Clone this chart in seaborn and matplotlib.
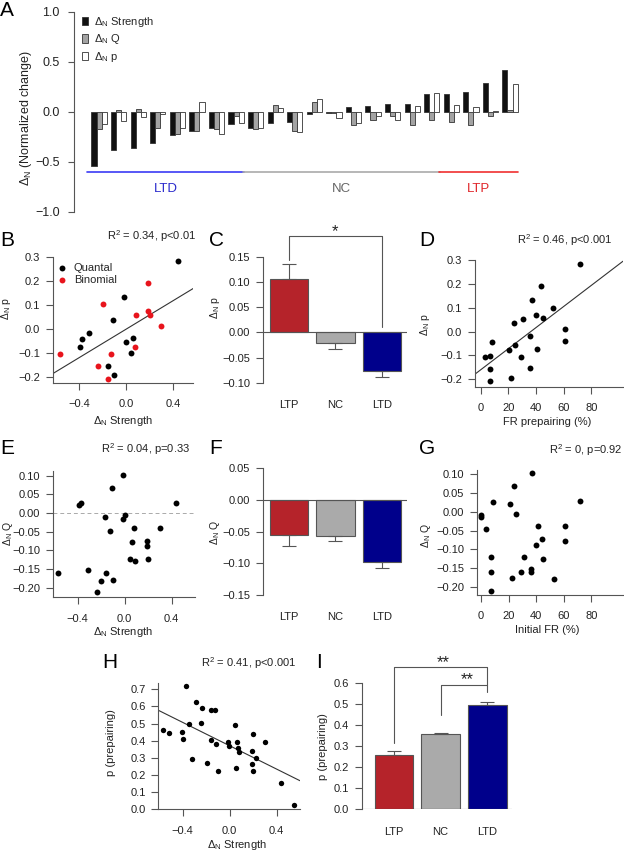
import numpy as np
import pandas as pd
import matplotlib
matplotlib.use('Agg')
import matplotlib.pyplot as plt
from matplotlib.patches import Patch
import seaborn as sns

sns.set_style('ticks')
plt.rcParams['font.family'] = ['Liberation Sans', 'DejaVu Sans']
plt.rcParams['mathtext.fontset'] = 'custom'
plt.rcParams['mathtext.rm'] = 'Liberation Sans'
plt.rcParams['mathtext.it'] = 'Liberation Sans:italic'
plt.rcParams['mathtext.bf'] = 'Liberation Sans:bold'

# ---- data ----
# A: normalized change per cell (sorted by strength change)
cell_class = ['LTD'] * 8 + ['NC'] * 10 + ['LTP'] * 4
d_strength = [-0.54, -0.38, -0.36, -0.31, -0.23, -0.19, -0.16, -0.12, -0.16, -0.11, -0.10,
              -0.015, -0.005, 0.05, 0.063, 0.08, 0.08, 0.18, 0.18, 0.197, 0.29, 0.42]
d_q = [-0.167, 0.023, 0.027, -0.157, -0.223, -0.193, -0.17, -0.043, -0.17, 0.067, -0.187,
       0.097, -0.01, -0.133, -0.083, -0.043, -0.133, -0.083, -0.10, -0.127, -0.043, 0.023]
d_p = [-0.117, -0.09, -0.05, -0.023, -0.157, 0.103, -0.217, -0.113, -0.16, 0.037, -0.20,
       0.13, -0.06, -0.11, -0.043, -0.08, 0.057, 0.19, 0.07, 0.05, 0.01, 0.28]

# B: delta p vs delta strength
quantal_strength = [0.44, -0.014, -0.111, -0.316, -0.375, -0.395, 0.0, 0.062, 0.045, -0.156, -0.10]
quantal_dp = [0.282, 0.131, 0.036, -0.017, -0.042, -0.078, -0.057, -0.04, -0.10, -0.154, -0.193]
binomial_strength = [0.185, -0.196, 0.085, 0.185, 0.205, 0.299, 0.079, -0.125, -0.563, -0.236, -0.156]
binomial_dp = [0.192, 0.102, 0.058, 0.072, 0.056, 0.012, -0.075, -0.104, -0.107, -0.155, -0.208]

# C, F, I: group means +- sem
groups = ['LTP', 'NC', 'LTD']
dp_mean = [0.105, -0.021, -0.077]
dp_sem = [0.030, 0.012, 0.011]
dq_mean = [-0.055, -0.057, -0.098]
dq_sem = [0.017, 0.008, 0.010]
ppre_mean = [0.256, 0.355, 0.496]
ppre_sem = [0.022, 0.008, 0.011]

# D: delta p vs FR prepairing
d_fr = [71.6, 43.8, 37.0, 52.7, 39.9, 45.0, 30.9, 23.9, 60.7, 35.8, 60.7, 8.0, 25.1, 20.8,
        40.6, 3.1, 6.8, 29.0, 6.8, 35.8, 21.8, 6.8]
d_dp = [0.282, 0.191, 0.132, 0.100, 0.071, 0.058, 0.054, 0.036, 0.012, -0.017, -0.039, -0.042,
        -0.056, -0.079, -0.075, -0.105, -0.102, -0.108, -0.157, -0.154, -0.195, -0.209]

# E: delta Q vs delta strength
e_strength = [-0.014, -0.11, -0.391, -0.374, 0.44, -0.167, 0.0, -0.014, -0.125, 0.082, 0.298,
              0.062, 0.187, 0.187, 0.048, 0.085, 0.201, -0.564, -0.315, -0.159, -0.198, -0.102, -0.238]
e_dq = [0.102, 0.068, 0.021, 0.026, 0.028, -0.01, -0.005, -0.017, -0.047, -0.039, -0.04,
        -0.078, -0.074, -0.088, -0.122, -0.128, -0.122, -0.161, -0.154, -0.162, -0.182, -0.179, -0.212]

# G: delta Q vs initial FR
g_fr = [37.3, 24.2, 8.5, 21.3, 72.1, 0.2, 0.2, 25.4, 3.6, 41.4, 61.0, 44.3, 61.0, 40.2, 7.3,
        31.2, 45.2, 7.3, 29.3, 36.3, 36.3, 22.3, 53.2, 7.3]
g_dq = [0.103, 0.068, 0.027, 0.021, 0.028, -0.009, -0.015, -0.005, -0.046, -0.038, -0.039,
        -0.073, -0.077, -0.088, -0.121, -0.121, -0.126, -0.161, -0.16, -0.153, -0.161, -0.177, -0.18, -0.21]

# H: p (prepairing) vs delta strength
h_strength = [-0.373, -0.288, -0.237, -0.157, -0.121, -0.563, -0.517, -0.345, -0.245, -0.402,
              -0.393, 0.049, -0.16, -0.112, -0.016, -0.004, 0.064, 0.075, 0.083, 0.203, 0.302,
              0.189, 0.226, -0.317, -0.194, 0.191, 0.055, -0.10, 0.203, 0.438, 0.549]
h_p = [0.717, 0.625, 0.590, 0.581, 0.581, 0.463, 0.447, 0.500, 0.506, 0.452, 0.410, 0.490,
       0.402, 0.381, 0.393, 0.371, 0.391, 0.360, 0.332, 0.440, 0.391, 0.342, 0.301, 0.291,
       0.272, 0.262, 0.242, 0.225, 0.221, 0.154, 0.027]

# ---- figure ----
W, H = 624, 852
fig = plt.figure(figsize=(W / 100, H / 100), dpi=100)
AX = '#555555'
TXT = '#222222'
grp_colors = ['#b5232a', '#aaaaaa', '#00008b']


def box(l, r, t, b):
    return fig.add_axes([l / W, 1 - b / H, (r - l) / W, (b - t) / H])


def fmt(v, nd):
    return f'{v:.{nd}f}'.replace('-', '\u2212')


def style(ax, fs=8):
    for s in ['top', 'right']:
        ax.spines[s].set_visible(False)
    for s in ['left', 'bottom']:
        ax.spines[s].set_color(AX)
        ax.spines[s].set_linewidth(0.8)
    ax.tick_params(direction='out', length=4.7, width=0.8, color=AX, labelsize=fs,
                   labelcolor=TXT)
    ax.tick_params(axis='y', pad=4.5)
    ax.tick_params(axis='x', pad=7)


def ylab(ax, text, x, y, fs=7.5):
    ax.set_ylabel(text, fontsize=fs, color=TXT)
    ax.yaxis.set_label_coords(x / W, 1 - y / H, transform=fig.transFigure)


def xlab(ax, text, x, y, fs=8):
    ax.set_xlabel(text, fontsize=fs, color=TXT)
    ax.xaxis.set_label_coords(x / W, 1 - y / H, transform=fig.transFigure)


def ticks(ax, xt, yt, xnd, ynd):
    if xt is not None:
        ax.set_xticks(xt)
        ax.set_xticklabels([fmt(v, xnd) for v in xt])
    ax.set_yticks(yt)
    ax.set_yticklabels([fmt(v, ynd) for v in yt])


def panel_letter(s, x, y):
    fig.text(x / W, 1 - y / H, s, fontsize=15, va='center', ha='left', color='black')


def stat_text(s, x, y):
    fig.text(x / W, 1 - y / H, s, fontsize=8, ha='center', va='center', color=TXT)


def bar_panel(ax, means, sems, ylim, yt):
    sns.barplot(x=groups, y=means, hue=groups, palette=grp_colors, saturation=1, width=0.83,
                edgecolor=AX, linewidth=0.8, errorbar=None, legend=False, ax=ax)
    for i, (m, e) in enumerate(zip(means, sems)):
        err = [[0], [e]] if m > 0 else [[e], [0]]
        ax.errorbar(i, m, yerr=err, fmt='none', ecolor=AX, elinewidth=0.8, capsize=5,
                    capthick=0.8, zorder=3)
    ax.axhline(0, color=AX, lw=0.8, zorder=3)
    style(ax)
    ax.set_xlim(-0.56, 2.54)
    ax.set_ylim(*ylim)
    ticks(ax, None, yt, 0, 2 if yt[1] - yt[0] < 0.1 else 1)
    ax.spines['bottom'].set_visible(False)
    ax.spines['left'].set_bounds(min(yt), max(yt))
    ax.tick_params(axis='x', length=0, labelsize=8, pad=12.5)
    ax.set_xlabel('')


def bracket(ax, x0, x1, y0, ytop, y1):
    ax.plot([x0, x0, x1, x1], [y0, ytop, ytop, y1], color=AX, lw=0.8, clip_on=False)


dN = 'Δ$_\\mathregular{N}$'

# ---------- A ----------
axA = box(74, 530, 12, 212)
labels = [dN + ' Strength', dN + ' Q', dN + ' p']
n = len(d_strength)
dfA = pd.DataFrame({'cell': np.tile(np.arange(n), 3),
                    'measure': np.repeat(labels, n),
                    'value': np.concatenate([d_strength, d_q, d_p])})
a_cols = ['#111111', '#a3a3a3', '#ffffff']
sns.barplot(data=dfA, x='cell', y='value', hue='measure', palette=a_cols, saturation=1,
            width=0.78, edgecolor='#333333', linewidth=0.6, errorbar=None, legend=False, ax=axA)
style(axA, fs=9)
axA.tick_params(axis='y', length=4.3, pad=6)
axA.spines['bottom'].set_visible(False)
axA.set_xticks([])
axA.set_xlim(-1.28, 22.02)
axA.set_ylim(-1.0, 1.0)
ticks(axA, None, [-1.0, -0.5, 0.0, 0.5, 1.0], 0, 1)
ylab(axA, dN + ' (Normalized change)', 34, 118, fs=9)
axA.set_xlabel('')
handles = [Patch(facecolor=c, edgecolor='#333333', linewidth=0.6) for c in a_cols]
axA.legend(handles, labels, loc='upper left', bbox_to_anchor=(0.018, 0.985), frameon=False,
           fontsize=8, handlelength=0.55, handleheight=0.8, handletextpad=0.5,
           labelspacing=0.3, borderaxespad=0, borderpad=0)
cls_style = {'LTD': ('#3b3bf5', '#2a2acc'), 'NC': ('#aaaaaa', '#666666'), 'LTP': ('#f03030', '#e0262a')}
for c in ['LTD', 'NC', 'LTP']:
    idx = [i for i, k in enumerate(cell_class) if k == c]
    axA.plot([idx[0] - 0.62, idx[-1] + 0.42], [-0.6, -0.6], color=cls_style[c][0], lw=1.2,
             clip_on=False)
    axA.text((idx[0] + idx[-1]) / 2 - 0.1, -0.765, c, color=cls_style[c][1], fontsize=9.5,
             ha='center', va='center')
panel_letter('A', 0, 10)

# ---------- B ----------
axB = box(53, 193.3, 256.7, 382.7)
axB.set_xlim(-0.62, 0.57)
axB.set_ylim(-0.225, 0.3)
sns.regplot(x=np.r_[quantal_strength, binomial_strength], y=np.r_[quantal_dp, binomial_dp],
            scatter=False, ci=None, truncate=False, color='#333333', line_kws={'lw': 0.8}, ax=axB)
sns.scatterplot(x=quantal_strength, y=quantal_dp, color='black', s=18, linewidth=0, ax=axB,
                label='Quantal', zorder=3)
sns.scatterplot(x=binomial_strength, y=binomial_dp, color='#e8141c', s=18, linewidth=0, ax=axB,
                label='Binomial', zorder=3)
style(axB)
axB.set_xlim(-0.62, 0.57)
axB.set_ylim(-0.225, 0.3)
ticks(axB, [-0.4, 0.0, 0.4], [-0.2, -0.1, 0.0, 0.1, 0.2, 0.3], 1, 1)
axB.legend(loc='upper left', bbox_to_anchor=(0.03, 0.95), frameon=False, fontsize=8,
           handlelength=0.8, handletextpad=0.7, labelspacing=0.15, borderaxespad=0, borderpad=0)
ylab(axB, dN + ' p', 13, 309, fs=7.5)
xlab(axB, dN + ' Strength', 123, 414)
panel_letter('B', 0, 240)
stat_text('R$^2$ = 0.34, p<0.01', 152, 236)

# ---------- C ----------
axC = box(263, 407, 256.7, 382.7)
bar_panel(axC, dp_mean, dp_sem, (-0.10, 0.15), [-0.10, -0.05, 0.0, 0.05, 0.10, 0.15])
bracket(axC, 0, 2, 0.143, 0.191, 0.011)
axC.text(1, 0.191, '*', fontsize=12, ha='center', va='baseline', color=TXT)
ylab(axC, dN + ' p', 222, 308, fs=7.5)
panel_letter('C', 209, 240)

# ---------- D ----------
axD = box(475, 623, 260, 386.7)
axD.set_xlim(-4.1, 103)
axD.set_ylim(-0.231, 0.3)
sns.regplot(x=d_fr, y=d_dp, scatter=False, ci=None, truncate=False, color='#333333',
            line_kws={'lw': 0.8}, ax=axD)
sns.scatterplot(x=d_fr, y=d_dp, color='black', s=18, linewidth=0, ax=axD, zorder=3)
style(axD)
axD.set_xlim(-4.1, 103)
axD.set_ylim(-0.231, 0.3)
ticks(axD, [0, 20, 40, 60, 80], [-0.2, -0.1, 0.0, 0.1, 0.2, 0.3], 0, 1)
ylab(axD, dN + ' p', 432, 325, fs=7.5)
xlab(axD, 'FR prepairing (%)', 547, 417)
panel_letter('D', 419, 241)
stat_text('R$^2$ = 0.46, p<0.001', 565, 240)

# ---------- E ----------
axE = box(53, 195, 471, 597.3)
sns.scatterplot(x=e_strength, y=e_dq, color='black', s=18, linewidth=0, ax=axE, zorder=3)
axE.axhline(0, color='#aaaaaa', lw=0.7, ls=(0, (4, 3)))
style(axE)
axE.set_xlim(-0.61, 0.60)
axE.set_ylim(-0.226, 0.1126)
ticks(axE, [-0.4, 0.0, 0.4], [-0.20, -0.15, -0.10, -0.05, 0.0, 0.05, 0.10], 1, 2)
ylab(axE, dN + ' Q', 15, 533, fs=7.5)
xlab(axE, dN + ' Strength', 123, 625)
panel_letter('E', 0, 448)
stat_text('R$^2$ = 0.04, p=0.33', 146, 449)

# ---------- F ----------
axF = box(263, 407, 468.3, 595)
bar_panel(axF, dq_mean, dq_sem, (-0.15, 0.05), [-0.15, -0.10, -0.05, 0.0, 0.05])
ylab(axF, dN + ' Q', 222, 532, fs=7.5)
panel_letter('F', 209, 449)

# ---------- G ----------
axG = box(476.7, 623, 470, 595)
sns.scatterplot(x=g_fr, y=g_dq, color='black', s=18, linewidth=0, ax=axG, zorder=3)
style(axG)
axG.set_xlim(-3.1, 103)
axG.set_ylim(-0.222, 0.1115)
ticks(axG, [0, 20, 40, 60, 80], [-0.20, -0.15, -0.10, -0.05, 0.0, 0.05, 0.10], 0, 2)
ylab(axG, dN + ' Q', 433, 535, fs=7.5)
xlab(axG, 'Initial FR (%)', 547, 625)
panel_letter('G', 419, 448)
stat_text('R$^2$ = 0, p=0.92', 586, 450)

# ---------- H ----------
axH = box(158.3, 300, 683.3, 809.3)
axH.set_xlim(-0.606, 0.6)
axH.set_ylim(0, 0.735)
sns.regplot(x=h_strength, y=h_p, scatter=False, ci=None, truncate=False, color='#333333',
            line_kws={'lw': 0.8}, ax=axH)
sns.scatterplot(x=h_strength, y=h_p, color='black', s=15, linewidth=0, ax=axH, zorder=3)
style(axH)
axH.set_xlim(-0.606, 0.6)
axH.set_ylim(0, 0.735)
ticks(axH, [-0.4, 0.0, 0.4], [0.0, 0.1, 0.2, 0.3, 0.4, 0.5, 0.6, 0.7], 1, 1)
ylab(axH, 'p (prepairing)', 116, 743, fs=8)
xlab(axH, dN + ' Strength', 237, 838)
panel_letter('H', 102, 662)
stat_text('R$^2$ = 0.41, p<0.001', 249, 663)

# ---------- I ----------
axI = box(361.7, 511.7, 682.7, 809.3)
bar_panel(axI, ppre_mean, ppre_sem, (0.0, 0.6), [0.0, 0.1, 0.2, 0.3, 0.4, 0.5, 0.6])
axI.set_xlim(-0.69, 2.52)
bracket(axI, 0, 2, 0.313, 0.673, 0.589)
bracket(axI, 1, 2, 0.447, 0.589, 0.558)
axI.text(1.05, 0.676, '**', fontsize=12, ha='center', va='baseline', color=TXT)
axI.text(1.56, 0.592, '**', fontsize=12, ha='center', va='baseline', color=TXT)
ylab(axI, 'p (prepairing)', 328, 747, fs=8)
panel_letter('I', 316, 662)

fig.savefig('out.png', dpi=100)
